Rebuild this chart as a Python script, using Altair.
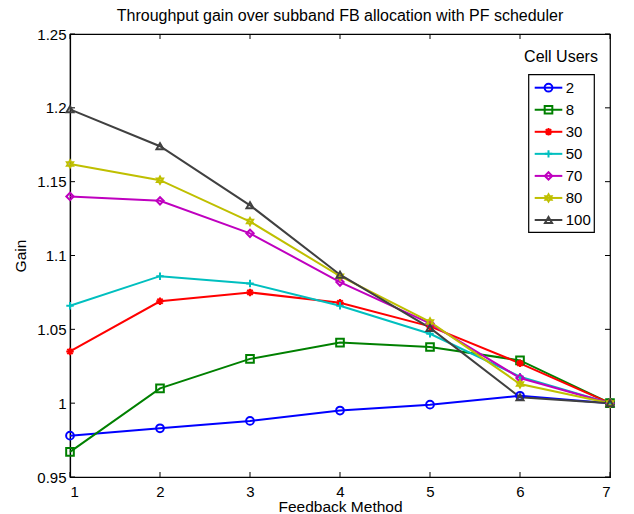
import altair as alt
import pandas as pd
import numpy as np

# ---------------- data ----------------
feedback = [1, 2, 3, 4, 5, 6, 7]
users = ["2", "8", "30", "50", "70", "80", "100"]
gain_2 = [0.978, 0.983, 0.988, 0.995, 0.999, 1.005, 1.000]
gain_8 = [0.967, 1.010, 1.030, 1.041, 1.038, 1.029, 1.000]
gain_30 = [1.035, 1.069, 1.075, 1.068, 1.052, 1.027, 1.000]
gain_50 = [1.066, 1.086, 1.081, 1.066, 1.047, 1.018, 1.000]
gain_70 = [1.140, 1.137, 1.115, 1.082, 1.054, 1.017, 1.000]
gain_80 = [1.162, 1.151, 1.123, 1.086, 1.055, 1.013, 1.000]
gain_100 = [1.199, 1.174, 1.134, 1.087, 1.051, 1.004, 1.000]
x_ticks = [1, 2, 3, 4, 5, 6, 7]
y_ticks = [0.95, 1.0, 1.05, 1.1, 1.15, 1.2, 1.25]
title_text = "Throughput gain over subband FB allocation with PF scheduler"

series = [gain_2, gain_8, gain_30, gain_50, gain_70, gain_80, gain_100]
rows = []
for u, vals in zip(users, series):
    for xv, yv in zip(feedback, vals):
        rows.append({"users": u, "fb": xv, "gain": yv})
df = pd.DataFrame(rows)

# ---------------- styling ----------------
FONT = "Liberation Sans"
colors = ["#0000FF", "#008000", "#FF0000", "#00BFBF", "#BF00BF", "#BFBF00", "#404040"]

ang = np.deg2rad(np.arange(12) * 30 - 90)
rad = np.where(np.arange(12) % 2 == 0, 1.0, 0.577)
hexagram = "M" + "L".join(f"{r*np.cos(a):.3f},{r*np.sin(a):.3f}" for r, a in zip(rad, ang)) + "Z"
asterisk = "M-1,0L1,0M0,-1L0,1M-0.7,-0.7L0.7,0.7M-0.7,0.7L0.7,-0.7"
plus = "M-1,0L1,0M0,-1L0,1"
shapes = ["circle", "square", asterisk, plus, "diamond", hexagram, "triangle-up"]
sizes = [60, 50, 45, 75, 80, 170, 100]

color_enc = alt.Color("users:N", scale=alt.Scale(domain=users, range=colors), legend=None)
shape_enc = alt.Shape("users:N", scale=alt.Scale(domain=users, range=shapes), legend=None)
size_enc = alt.Size("users:N", scale=alt.Scale(domain=users, range=sizes), legend=None)

W, H = 540, 443
xscale = alt.Scale(domain=[1, 7], nice=False, zero=False)
yscale = alt.Scale(domain=[0.95, 1.25], nice=False, zero=False)

x_enc = alt.X("fb:Q", scale=xscale,
              axis=alt.Axis(values=x_ticks, title="Feedback Method", tickSize=0,
                            labelPadding=7, titlePadding=0, format="d"))
y_enc = alt.Y("gain:Q", scale=yscale,
              axis=alt.Axis(values=y_ticks, title="Gain", tickSize=0,
                            labelPadding=4, titlePadding=8, format=".2~f"))

lines = alt.Chart(df).mark_line(strokeWidth=2).encode(
    x=x_enc, y=y_enc, color=color_enc, detail="users:N"
)
points = alt.Chart(df).mark_point(filled=False, strokeWidth=2, opacity=1).encode(
    x=alt.X("fb:Q", scale=xscale), y=alt.Y("gain:Q", scale=yscale),
    color=color_enc, shape=shape_enc, size=size_enc
)

xt = pd.DataFrame({"t": x_ticks})
yt = pd.DataFrame({"t": y_ticks})
tick_x_bottom = alt.Chart(xt).mark_rule(color="black", strokeWidth=1).encode(
    x=alt.X("t:Q", scale=xscale), y=alt.value(H), y2=alt.value(H - 5))
tick_x_top = alt.Chart(xt).mark_rule(color="black", strokeWidth=1).encode(
    x=alt.X("t:Q", scale=xscale), y=alt.value(0), y2=alt.value(5))
tick_y_left = alt.Chart(yt).mark_rule(color="black", strokeWidth=1).encode(
    y=alt.Y("t:Q", scale=yscale), x=alt.value(0), x2=alt.value(5))
tick_y_right = alt.Chart(yt).mark_rule(color="black", strokeWidth=1).encode(
    y=alt.Y("t:Q", scale=yscale), x=alt.value(W), x2=alt.value(W - 5))

main = alt.layer(tick_x_bottom, tick_x_top, tick_y_left, tick_y_right, lines, points)

# ---------------- title & legend (drawn as a small layer) ----------------
ttl = pd.DataFrame({"t": [title_text]})
title_mark = alt.Chart(ttl).mark_text(font=FONT, fontSize=16, color="black",
                                      align="center", baseline="alphabetic").encode(
    x=alt.value(W / 2), y=alt.value(-13), text="t:N")

leg = pd.DataFrame({"users": users, "order": list(range(len(users)))})
ly = alt.Y("order:Q", scale=alt.Scale(domain=[0, 6], range=[53.7, 186]), axis=None)
one = pd.DataFrame({"t": ["Cell Users"]})
leg_box = alt.Chart(one).mark_rect(fill="white", stroke="black", strokeWidth=1.2).encode(
    x=alt.value(458.7), x2=alt.value(524.3), y=alt.value(40.7), y2=alt.value(198.3))
leg_title = alt.Chart(one).mark_text(font=FONT, fontSize=16, color="black",
                                     align="center", baseline="middle").encode(
    x=alt.value(491), y=alt.value(23), text="t:N")
leg_lines = alt.Chart(leg).mark_rule(strokeWidth=2).encode(
    x=alt.value(464.7), x2=alt.value(492.3), y=ly, color=color_enc)
leg_pts = alt.Chart(leg).mark_point(filled=False, strokeWidth=2, opacity=1).encode(
    x=alt.value(478.5), y=ly, color=color_enc, shape=shape_enc, size=size_enc)
leg_text = alt.Chart(leg).mark_text(font=FONT, fontSize=15, color="black",
                                    align="left", baseline="middle").encode(
    x=alt.value(495.7), y=ly, text="users:N")
legend = alt.layer(title_mark, leg_box, leg_title, leg_lines, leg_pts, leg_text)

chart = alt.layer(main, legend).resolve_scale(y="independent").properties(
    width=W, height=H,
    autosize=alt.AutoSizeParams(type="none"),
    padding={"left": 70, "top": 34, "right": 24, "bottom": 37},
    background="white",
).configure_view(stroke="black", strokeWidth=1.2).configure_axis(
    grid=False, domainColor="black", domainWidth=1.2,
    labelFont=FONT, labelFontSize=15, labelColor="black",
    titleFont=FONT, titleFontSize=15.5, titleFontWeight="normal", titleColor="black",
)

chart.save("out.html", embed_options={"renderer": "svg", "actions": False})
